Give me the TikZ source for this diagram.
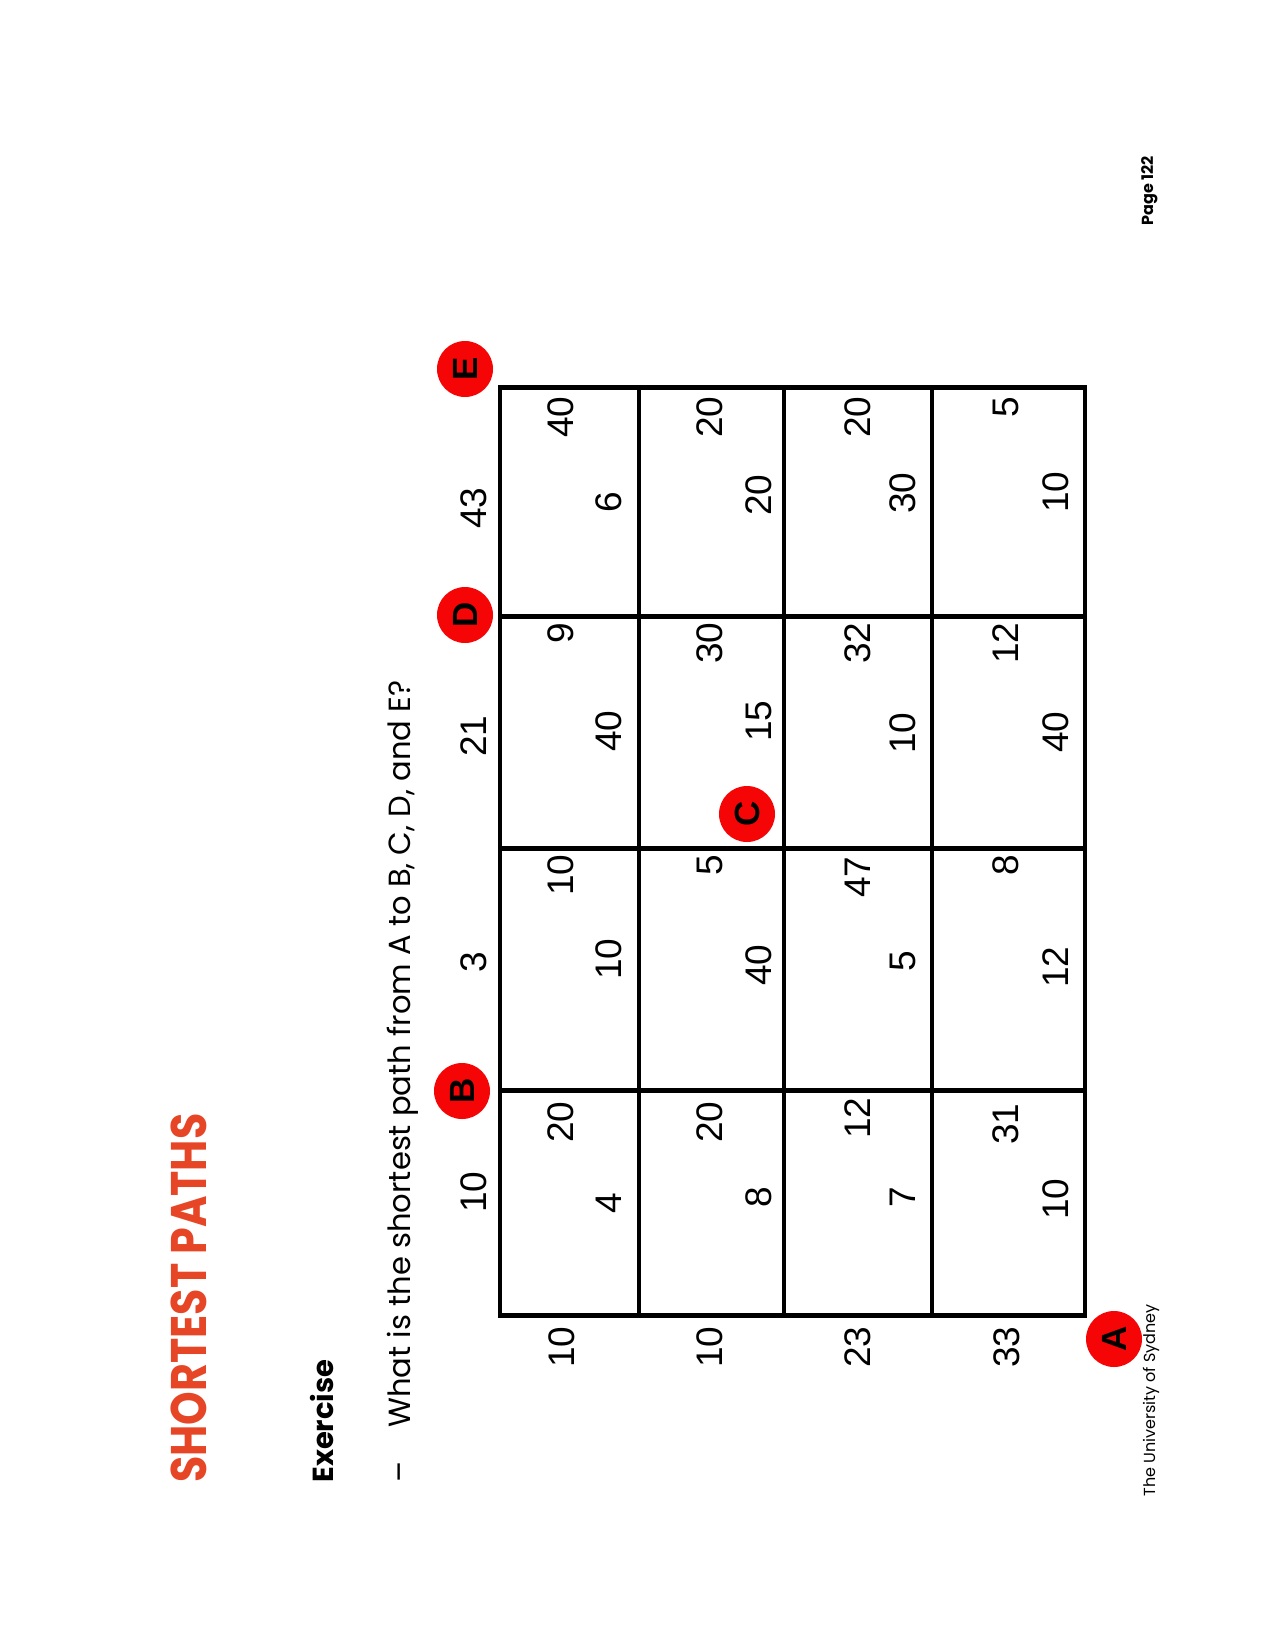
\documentclass[tikz,border=0pt]{standalone}
\usepackage{fontspec}
\setmainfont{Liberation Sans}
\newfontfamily\slidefont{Poppins}
\usetikzlibrary{positioning}
\definecolor{sydorange}{RGB}{230,70,38}
\definecolor{markred}{RGB}{245,5,5}

\begin{document}
\begin{tikzpicture}[x=0.5pt, y=-0.5pt,
    weight/.style={rotate=90, inner sep=0pt, font=\fontsize{18.5}{18.5}\selectfont},
    vertex/.style={circle, fill=markred, minimum size=28pt, inner sep=0pt, rotate=90,
                   font=\fontsize{17.5}{17.5}\selectfont\bfseries},
    slidetext/.style={rotate=90, anchor=base west, inner sep=0pt},
    gridline/.style={line width=2.3pt}
]

% Page (slide turned on its side)
\fill[white] (0,0) rectangle (1275,1650);
\useasboundingbox (0,0) rectangle (1275,1650);

% Slide texts
\node[slidetext, xscale=0.855, text=sydorange, font=\slidefont\bfseries\fontsize{25}{25}\selectfont]
     (title) at (206.7,1483) {SHORTEST PATHS};
\node[slidetext, font=\slidefont\bfseries\fontsize{14.5}{14.5}\selectfont]
     (exercise) at (333,1483) {Exercise};
\node[slidetext, font=\slidefont\fontsize{15.5}{15.5}\selectfont]
     (dash) at (410,1483) {–};
\node[slidetext, font=\slidefont\fontsize{15.3}{15.3}\selectfont]
     (question) at (410,1428) {What is the shortest path from A to B, C, D, and E?};
\node[slidetext, font=\slidefont\fontsize{8}{8}\selectfont]
     (uni) at (1155,1497) {The University of Sydney};
\node[slidetext, font=\slidefont\bfseries\fontsize{8}{8}\selectfont]
     (page) at (1153,226) {Page 122};

% Street grid
\draw[gridline] (500,387.5) rectangle (1085,1315.5);
\draw[gridline] (639,387.5) -- (639,1315.5);
\draw[gridline] (784,387.5) -- (784,1315.5);
\draw[gridline] (932,387.5) -- (932,1315.5);
\draw[gridline] (500,616.5) -- (1085,616.5);
\draw[gridline] (500,848.5) -- (1085,848.5);
\draw[gridline] (500,1090.5) -- (1085,1090.5);

% Weights above the grid
\node[weight] (t1) at (474,1192) {10};
\node[weight] (t2) at (474,962) {3};
\node[weight] (t3) at (474,736) {21};
\node[weight] (t4) at (474,508) {43};

% Band 1
\node[weight] (r1u1) at (561,1122) {20};
\node[weight] (r1u2) at (561,875) {10};
\node[weight] (r1u3) at (561,633) {9};
\node[weight] (r1u4) at (561,417) {40};
\node[weight] (r1l1) at (609,1203) {4};
\node[weight] (r1l2) at (609,959) {10};
\node[weight] (r1l3) at (609,731) {40};
\node[weight] (r1l4) at (609,502) {6};

% Band 2
\node[weight] (r2u1) at (710,1122) {20};
\node[weight] (r2u2) at (710,865) {5};
\node[weight] (r2u3) at (710,643) {30};
\node[weight] (r2u4) at (710,417) {20};
\node[weight] (r2l1) at (759,1197) {8};
\node[weight] (r2l2) at (759,965) {40};
\node[weight] (r2l3) at (759,721) {15};
\node[weight] (r2l4) at (759,495) {20};

% Band 3
\node[weight] (r3u1) at (858,1118) {12};
\node[weight] (r3u2) at (858,877) {47};
\node[weight] (r3u3) at (858,643) {32};
\node[weight] (r3u4) at (858,417) {20};
\node[weight] (r3l1) at (903,1197) {7};
\node[weight] (r3l2) at (903,961) {5};
\node[weight] (r3l3) at (903,733) {10};
\node[weight] (r3l4) at (903,493) {30};

% Band 4
\node[weight] (r4u1) at (1006,1124) {31};
\node[weight] (r4u2) at (1006,865) {8};
\node[weight] (r4u3) at (1006,643) {12};
\node[weight] (r4u4) at (1006,407) {5};
\node[weight] (r4l1) at (1056,1199) {10};
\node[weight] (r4l2) at (1056,967) {12};
\node[weight] (r4l3) at (1056,732) {40};
\node[weight] (r4l4) at (1056,492) {10};

% Weights below the grid
\node[weight] (s1) at (562,1347) {10};
\node[weight] (s2) at (710,1347) {10};
\node[weight] (s3) at (858,1347) {23};
\node[weight] (s4) at (1007,1347) {33};

% Marked corners
\node[vertex] (A) at (1114,1339) {A};
\node[vertex] (B) at (462,1091) {B};
\node[vertex] (C) at (747,814) {C};
\node[vertex] (D) at (465,615) {D};
\node[vertex] (E) at (465,369) {E};

\end{tikzpicture}
\end{document}
